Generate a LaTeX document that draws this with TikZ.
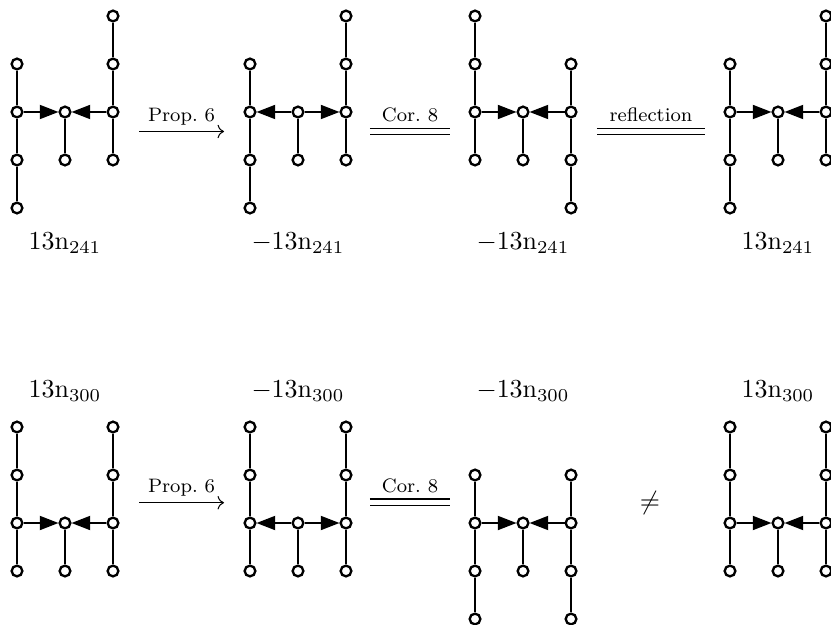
\documentclass[tikz,border=0pt]{standalone}
\usepackage{tikz}
\usetikzlibrary{arrows.meta}

\begin{document}
\begin{tikzpicture}[
    x=6.5mm, y=6.5mm,
    nodo/.style    = {circle, draw=black, fill=white, line width=0.9pt,
                      minimum size=1.45mm, inner sep=0pt},
    arista/.style  = {draw=black, line width=0.7pt},
    entra/.style   = {-{Triangle[length=7.2pt,width=5.4pt]}},
    sale/.style    = {{Triangle[length=7.2pt,width=5.4pt]}-},
    etiqueta/.style= {font=\normalsize, anchor=base, inner sep=1pt},
    rotulo/.style  = {font=\fontsize{7.5}{9}\selectfont, anchor=base,
                      yshift=3.8pt, inner sep=1pt},
    flecha/.style  = {->, draw=black, line width=0.4pt},
    doble/.style   = {draw=black, double, double distance=2.1pt, line width=0.45pt},
    relacion/.style= {font=\normalsize, inner sep=1pt},
    %--- grafo: columnas de cuatro nodos que empiezan en la fila #1 (izq.)
    %--- y #2 (der.), centro en las filas 2 y 3, flechas segun #3
    pics/grafo/.style n args={3}{code={
      \foreach \k in {0,...,3} {
        \pgfmathtruncatemacro\fl{\k+#1}
        \pgfmathtruncatemacro\fr{\k+#2}
        \node[nodo] (-i\fl) at (0,-\fl) {};
        \node[nodo] (-d\fr) at (2,-\fr) {};
      }
      \node[nodo] (-c2) at (1,-2) {};
      \node[nodo] (-c3) at (1,-3) {};
      \foreach \k in {1,2,3} {
        \pgfmathtruncatemacro\fa{\k+#1-1}
        \pgfmathtruncatemacro\fb{\k+#1}
        \draw[arista] (-i\fa) -- (-i\fb);
        \pgfmathtruncatemacro\fa{\k+#2-1}
        \pgfmathtruncatemacro\fb{\k+#2}
        \draw[arista] (-d\fa) -- (-d\fb);
      }
      \draw[arista] (-c2) -- (-c3);
      \draw[arista, #3] (-i2) -- (-c2);
      \draw[arista, #3] (-d2) -- (-c2);
    }},
  ]
  \useasboundingbox (-0.354,0.333) rectangle (16.958,-12.667);

  %-------------------------------------------------- fila de arriba: 13n241
  \pic (g1) at (0,0)      {grafo={1}{0}{entra}};
  \pic (g2) at (4.854,0)  {grafo={1}{0}{sale}};
  \pic (g3) at (9.542,0)  {grafo={0}{1}{entra}};
  \pic (g4) at (14.854,0) {grafo={1}{0}{entra}};

  \node[etiqueta] (n1) at (1,-4.875)      {$\mathrm{13n}_{241}$};
  \node[etiqueta] (n2) at (5.854,-4.875)  {$-\mathrm{13n}_{241}$};
  \node[etiqueta] (n3) at (10.542,-4.875) {$-\mathrm{13n}_{241}$};
  \node[etiqueta] (n4) at (15.854,-4.875) {$\mathrm{13n}_{241}$};

  \coordinate (p1a) at (2.542,-2.406);
  \coordinate (p1b) at (4.313,-2.406);
  \draw[flecha] (p1a) -- node[rotulo] (r1) {Prop.~6} (p1b);
  \coordinate (c1a) at (7.354,-2.406);
  \coordinate (c1b) at (9.021,-2.406);
  \draw[doble] (c1a) -- node[rotulo] (r2) {Cor.~8} (c1b);
  \coordinate (f1a) at (12.083,-2.406);
  \coordinate (f1b) at (14.333,-2.406);
  \draw[doble] (f1a) -- node[rotulo] (r3) {reflection} (f1b);

  %-------------------------------------------------- fila de abajo: 13n300
  \pic (g5) at (0,-8.5625)      {grafo={0}{0}{entra}};
  \pic (g6) at (4.854,-8.5625)  {grafo={0}{0}{sale}};
  \pic (g7) at (9.542,-8.5625)  {grafo={1}{1}{entra}};
  \pic (g8) at (14.854,-8.5625) {grafo={0}{0}{entra}};

  \node[etiqueta] (n5) at (1,-7.958)      {$\mathrm{13n}_{300}$};
  \node[etiqueta] (n6) at (5.854,-7.958)  {$-\mathrm{13n}_{300}$};
  \node[etiqueta] (n7) at (10.542,-7.958) {$-\mathrm{13n}_{300}$};
  \node[etiqueta] (n8) at (15.854,-7.958) {$\mathrm{13n}_{300}$};

  \coordinate (p2a) at (2.542,-10.14);
  \coordinate (p2b) at (4.313,-10.14);
  \draw[flecha] (p2a) -- node[rotulo] (r4) {Prop.~6} (p2b);
  \coordinate (c2a) at (7.354,-10.13);
  \coordinate (c2b) at (9.021,-10.13);
  \draw[doble] (c2a) -- node[rotulo] (r5) {Cor.~8} (c2b);
  \node[relacion] (ne) at (13.188,-10.15) {$\neq$};
\end{tikzpicture}
\end{document}
